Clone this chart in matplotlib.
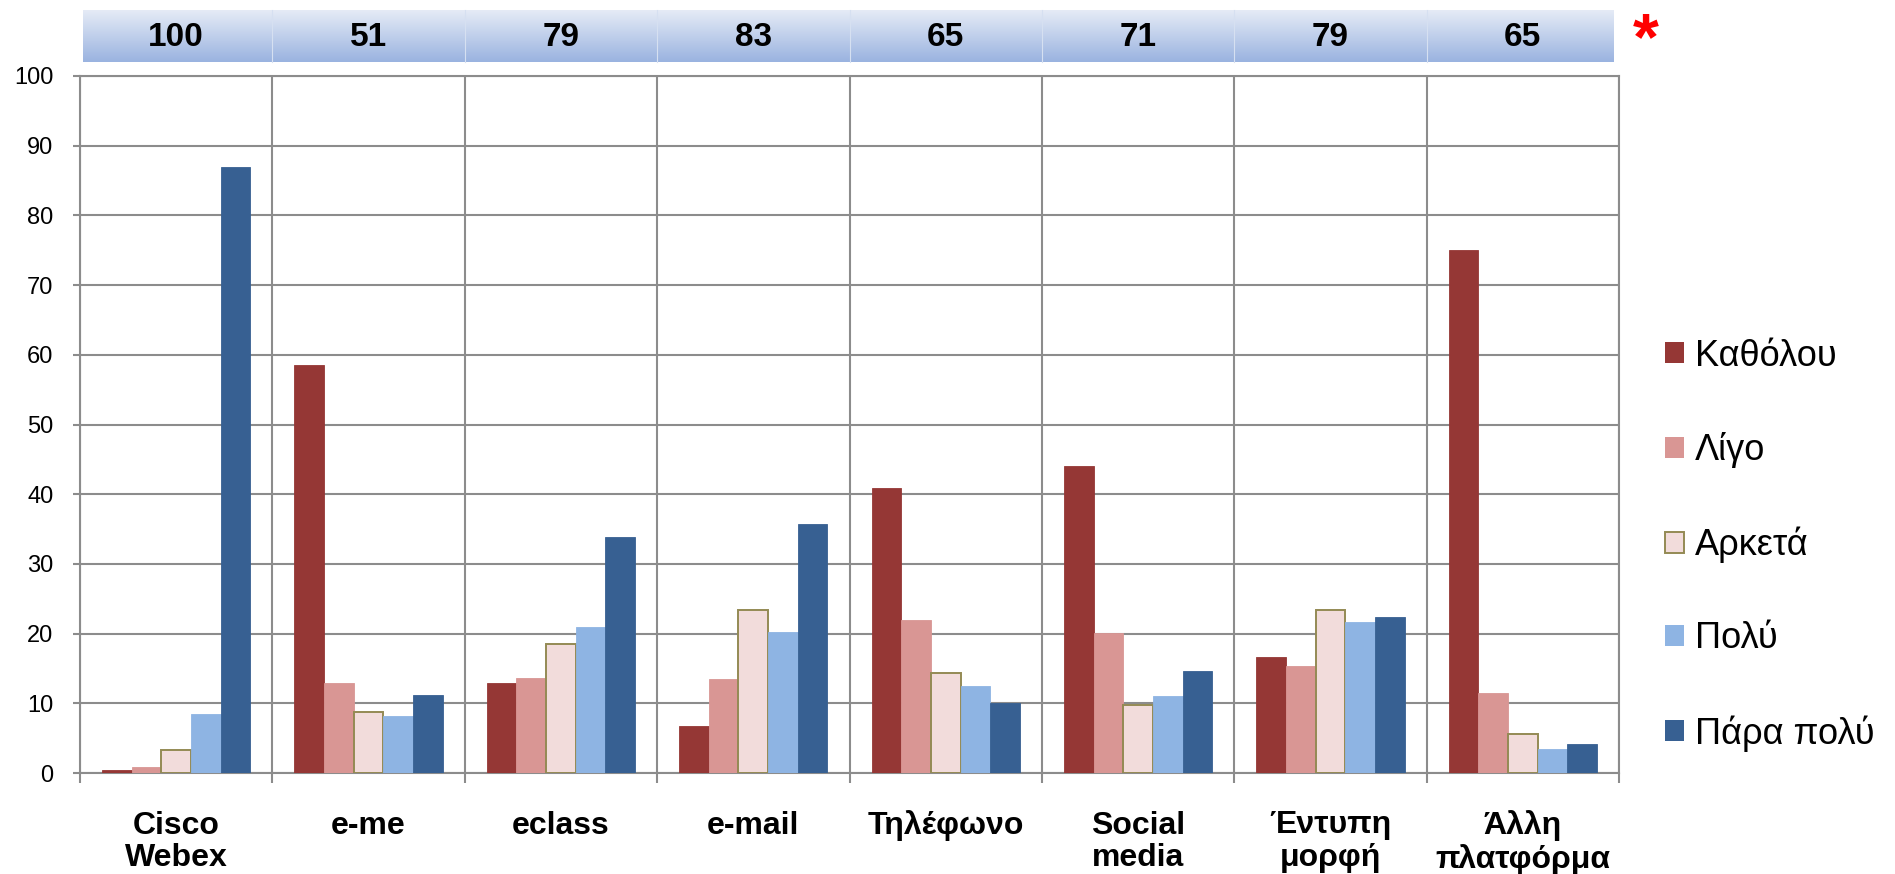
import matplotlib.pyplot as plt
import numpy as np
from matplotlib.patches import Patch
from matplotlib.colors import LinearSegmentedColormap
from matplotlib.transforms import blended_transform_factory

plt.rcParams['font.family'] = ['Liberation Sans', 'DejaVu Sans']

categories = ['Cisco\nWebex', 'e-me', 'eclass', 'e-mail', 'Τηλέφωνο',
              'Social\nmedia', 'Έντυπη\nμορφή', 'Άλλη\nπλατφόρμα']
totals = [100, 51, 79, 83, 65, 71, 79, 65]
series_names = ['Καθόλου', 'Λίγο', 'Αρκετά', 'Πολύ', 'Πάρα πολύ']
katholou = [0.4, 58.6, 12.9, 6.7, 40.9, 44.0, 16.6, 75.0]
ligo = [0.9, 12.9, 13.7, 13.5, 22.0, 20.1, 15.4, 11.5]
arketa = [3.3, 8.8, 18.5, 23.4, 14.3, 9.8, 23.4, 5.6]
poly = [8.4, 8.2, 20.9, 20.3, 12.5, 11.0, 21.7, 3.5]
para_poly = [87.0, 11.2, 33.8, 35.7, 10.1, 14.6, 22.4, 4.2]
series = [katholou, ligo, arketa, poly, para_poly]

colors = ['#953735', '#D99694', '#F2DCDB', '#8EB4E3', '#376092']
edges = ['#953735', '#D99694', '#948A54', '#8EB4E3', '#376092']
grid_col = '#8C8C8C'

fig = plt.figure(figsize=(18.95, 8.74), dpi=100)
ax = fig.add_axes([80 / 1895, 1 - 773 / 874, 1539 / 1895, 697 / 874])

x = np.arange(len(categories))
w = 0.154
for j, vals in enumerate(series):
    ax.bar(x + (j - 2) * w, vals, w, color=colors[j], edgecolor=edges[j],
           linewidth=1.4 if j == 2 else 0.6, zorder=3)

ax.set_xlim(-0.5, len(categories) - 0.5)
ax.set_ylim(0, 100)
ax.set_yticks(np.arange(0, 101, 10))
ax.set_xticks(np.arange(-0.5, len(categories)))
ax.set_xticklabels([])
ax.set_xticks(x, minor=True)
ax.set_xticklabels(categories, minor=True, fontsize=23, fontweight='bold',
                   linespacing=1.1)
ax.tick_params(axis='x', which='major', length=7, width=1.5, color=grid_col)
ax.tick_params(axis='x', which='minor', length=0, pad=27)
ax.tick_params(axis='y', length=5, width=1.5, color=grid_col, labelsize=17,
               pad=14)
ax.grid(True, which='major', color=grid_col, linewidth=1.5)
ax.set_axisbelow(True)
for s in ax.spines.values():
    s.set_color(grid_col)
    s.set_linewidth(1.5)

# header band with totals
band = fig.add_axes([82.7 / 1895, 1 - 62 / 874, (1613 - 82.7) / 1895, 52 / 874])
grad = np.linspace(0, 1, 100).reshape(-1, 1)
cmap = LinearSegmentedColormap.from_list('hdr', ['#9AB3E0', '#E5EBF6'])
band.imshow(grad, aspect='auto', cmap=cmap, extent=[0, 1, 0, 1])
band.set_xlim(0, 1)
band.set_ylim(1, 0)
band.axis('off')

tr = blended_transform_factory(ax.transData, fig.transFigure)
for i, t in enumerate(totals):
    fig.text(i, 1 - 37 / 874, str(t), transform=tr, ha='center', va='center',
             fontsize=24, fontweight='bold')
for b in np.arange(0.5, len(categories) - 1):
    fig.add_artist(plt.Line2D([b, b], [1 - 62 / 874, 1 - 10 / 874], transform=tr,
                              color='#D6E0F1', linewidth=0.8))

fig.text(1646 / 1895, 1 - 59 / 874, '*', color='red', fontsize=48,
         fontweight='bold', ha='center', va='baseline')

handles = [Patch(facecolor=colors[j], edgecolor=edges[j],
                 linewidth=1.4 if j == 2 else 0) for j in range(5)]
fig.legend(handles, series_names, loc='center left',
           bbox_to_anchor=(1665 / 1895, 1 - 545 / 874), frameon=False,
           fontsize=26, handlelength=0.53, handleheight=0.53,
           handletextpad=0.3, labelspacing=1.62, borderpad=0, borderaxespad=0)

fig.savefig('out.png', dpi=100)
